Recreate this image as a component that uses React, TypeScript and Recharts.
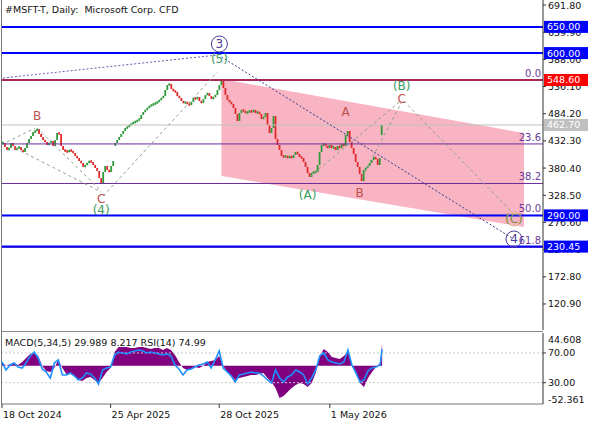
import React from "react";
import { ComposedChart, Bar, Line, Area, XAxis, YAxis, ReferenceLine, ReferenceDot } from "recharts";

const FONT = "'DejaVu Sans', Verdana, sans-serif";
const W = 596;
const SLOTS = 270;

// daily closes (one per bar slot)
const closes = [
  428.3, 420.6, 414.9, 418.7, 428.3, 422.6, 414.9, 418.7, 420.6, 414.9,
  411.1, 418.7, 428.3, 435.9, 441.6, 449.3, 451.2, 455.0, 445.5, 439.7,
  434.0, 430.2, 424.5, 428.3, 432.1, 422.6, 434.0, 447.4, 445.5, 422.6,
  414.9, 413.0, 411.1, 414.9, 413.0, 409.2, 403.5, 399.6, 393.9, 390.1,
  382.5, 386.3, 390.1, 393.9, 392.0, 386.3, 380.6, 374.8, 361.4, 350.0,
  372.9, 384.4, 376.7, 372.9, 384.4, 393.9, 428.3, 434.0, 439.7, 445.5,
  451.2, 456.9, 458.8, 462.7, 464.6, 468.4, 468.4, 472.2, 474.1, 481.8,
  487.5, 491.3, 495.1, 498.9, 500.8, 502.7, 504.6, 506.6, 510.4, 514.2,
  518.0, 529.5, 539.0, 541.0, 531.4, 527.6, 525.7, 518.0, 514.2, 508.5,
  504.6, 506.6, 502.7, 500.8, 506.6, 514.2, 512.3, 516.1, 508.5, 504.6,
  512.3, 519.9, 523.8, 518.0, 512.3, 516.1, 519.9, 529.5, 539.0, 546.7,
  533.3, 519.9, 510.4, 506.6, 502.7, 495.1, 483.7, 470.3, 485.6, 491.3,
  489.4, 485.6, 487.5, 489.4, 487.5, 491.3, 485.6, 487.5, 483.7, 474.1,
  477.9, 485.6, 462.7, 447.4, 456.9, 479.8, 435.9, 424.5, 414.9, 403.5,
  401.6, 403.5, 399.6, 403.5, 399.6, 405.4, 411.1, 407.3, 401.6, 399.6,
  392.0, 382.5, 371.0, 363.4, 371.0, 372.9, 372.9, 386.3, 411.1, 424.5,
  426.4, 422.6, 418.7, 424.5, 418.7, 420.6, 414.9, 422.6, 418.7, 426.4,
  422.6, 443.6, 451.2, 430.2, 418.7, 407.3, 392.0, 382.5, 369.1, 355.7,
  376.7, 380.6, 384.4, 390.1, 395.8, 401.6, 397.7, 386.3, 399.6, 462.7,
];
// bars that opened with a gap
const gapOpens: Record<number, number> = { 56: 422.6, 189: 443.6 };

// MACD(5,34,5) and RSI(14), every second bar (last entry = last bar)
const macd = [
  5.1, -0.4, 2.3, 3.7, 1.0, 5.1, 10.5, 16.0, 17.3, 13.2,
  -0.4, -7.2, -8.6, -3.1, 7.8, -3.1, -11.3, -11.3, -14.1, -19.5,
  -20.9, -16.8, -15.4, -19.5, -23.6, -16.8, -8.6, -3.1, 18.7, 25.5,
  25.5, 25.5, 24.2, 24.2, 25.5, 25.5, 24.2, 22.8, 24.2, 24.2,
  21.4, 24.2, 21.4, 14.6, 5.1, -3.1, -5.9, -4.5, -1.8, -3.1,
  -0.4, 5.1, 6.4, 7.8, 13.2, -0.4, -8.6, -14.1, -19.5, -16.8,
  -15.4, -14.1, -12.7, -12.7, -11.3, -10.0, -16.8, -22.3, -30.5, -44.1,
  -41.4, -35.9, -30.5, -26.4, -23.6, -25.0, -29.1, -23.6, -10.0, 13.2,
  22.8, 18.7, 11.9, 10.5, 9.2, 13.2, 18.7, -0.4, -10.0, -23.6,
  -29.1, -16.8, -8.6, -1.8, 3.7, 30.0,
];
const rsi = [
  57.9, 47.1, 53.8, 56.5, 51.1, 49.8, 56.5, 66.0, 71.3, 63.3,
  48.5, 44.4, 36.3, 56.5, 60.6, 40.4, 40.4, 43.1, 39.0, 33.6,
  36.4, 43.1, 41.8, 36.4, 28.2, 47.1, 49.8, 51.1, 67.3, 71.3,
  70.0, 68.7, 71.3, 72.7, 74.0, 72.7, 70.0, 71.3, 70.0, 68.7,
  67.3, 68.7, 66.0, 53.8, 48.5, 40.4, 47.1, 48.5, 51.1, 53.8,
  55.2, 57.9, 49.8, 60.6, 72.7, 49.8, 44.4, 39.0, 30.9, 40.4,
  41.8, 43.1, 44.4, 43.1, 43.1, 39.0, 33.6, 29.6, 47.1, 36.4,
  30.9, 37.7, 40.4, 47.1, 44.4, 40.4, 28.2, 36.4, 47.1, 66.0,
  70.0, 60.6, 57.9, 56.5, 55.2, 57.9, 74.0, 53.8, 43.1, 30.9,
  33.6, 45.8, 49.8, 51.1, 53.8, 74.99,
];

const priceTicks = [691.8, 639.9, 588.0, 536.1, 484.2, 432.3, 380.4, 328.5, 276.6, 224.7, 172.8, 120.9];
const dateTickSlots = [0, 54, 108, 163];
const dateLabels = ["18 Oct 2024", "25 Apr 2025", "28 Oct 2025", "1 May 2026"];

const blueLevels = [650, 600, 290, 230.45];
const redLevel = 548.6;
const bidLevel = 462.7;
const fibNames = ["0.0", "23.6", "38.2", "50.0", "61.8"];
const fibPrices = [548.6, 426.5, 351.0, 290.0, 229.0];

// channel corners: [slot, low, high]
const channel: [number, number, number][] = [
  [109, 365.3, 550.5],
  [260, 267.9, 447.4],
];

// wave lines: list of [slot, price]
const waveLines: [number, number][][] = [
  [[0, 552.4], [107, 596.3]],
  [[109, 592.5], [254, 246.9]],
  [[2, 430.2], [16, 456.9]],
  [[17, 456.9], [49, 336.6]],
  [[6, 418.7], [49, 334.7]],
  [[50, 327.0], [107, 563.9]],
  [[153, 363.4], [199, 510.4]],
  [[179, 361.4], [199, 506.6]],
  [[200, 508.5], [254, 296.1]],
];

const waveLabels = [
  { slot: 17, price: 479.9, text: "B", tone: "red" },
  { slot: 49, price: 321.4, text: "C", tone: "red" },
  { slot: 49, price: 300.4, text: "(4)", tone: "green" },
  { slot: 108, price: 617.3, text: "3", tone: "circle" },
  { slot: 108, price: 588.7, text: "(5)", tone: "green" },
  { slot: 171, price: 487.5, text: "A", tone: "red" },
  { slot: 152, price: 329.0, text: "(A)", tone: "green" },
  { slot: 178, price: 332.8, text: "B", tone: "red" },
  { slot: 199, price: 537.1, text: "(B)", tone: "green" },
  { slot: 199, price: 512.3, text: "C", tone: "red" },
  { slot: 255, price: 283.2, text: "(C)", tone: "olive" },
  { slot: 255, price: 245.0, text: "4", tone: "circle" },
];

const mainRows = Array.from({ length: SLOTS }, (_, i) => {
  const row: Record<string, any> = { i };
  if (i < closes.length) {
    const close = closes[i];
    const open = gapOpens[i] ?? (i > 0 ? closes[i - 1] : close);
    row.open = open;
    row.close = close;
    row.body = [Math.min(open, close), Math.max(open, close)];
  }
  channel.forEach(([s, lo, hi]) => {
    if (s === i) row.chan = [lo, hi];
  });
  waveLines.forEach((pts, n) =>
    pts.forEach(([s, p]) => {
      if (s === i) row[`w${n}`] = p;
    })
  );
  return row;
});

const indRows: Record<string, any>[] = Array.from({ length: SLOTS }, (_, i) => ({ i }));
macd.forEach((v, k) => {
  const slot = k < macd.length - 1 ? k * 2 : closes.length - 1;
  indRows[slot].hist = [0, v];
  indRows[slot].rsi = rsi[k];
});

const Candle = (props: any) => {
  const { x, y, width, height, payload } = props;
  if (!payload || payload.open == null) return null;
  const up = payload.close >= payload.open;
  const top = height < 0 ? y + height : y;
  const h = Math.max(Math.abs(height), 2.5);
  return <rect x={x + width / 2 - 0.9} y={top - (h - Math.abs(height)) / 2} width={1.8} height={h} fill={up ? "#2e9a3a" : "#e02a2a"} />;
};

const SideText = (props: any) => {
  const { viewBox, text, dy = 0 } = props;
  return (
    <text x={viewBox.x + viewBox.width + 5} y={viewBox.y + dy} dominantBaseline="central" fontSize={9.5} fontFamily={FONT} fill="#111">
      {text}
    </text>
  );
};

const PriceBox = (props: any) => {
  const { viewBox, text, bg } = props;
  const x = viewBox.x + viewBox.width + 1;
  const y = viewBox.y;
  return (
    <g>
      <rect x={x} y={y - 6} width={44} height={12} fill={bg} />
      <text x={x + 3} y={y} dominantBaseline="central" fontSize={9.5} fontFamily={FONT} fill="#fff">
        {text}
      </text>
    </g>
  );
};

const FibText = (props: any) => {
  const { viewBox, text } = props;
  return (
    <text x={viewBox.x + viewBox.width - 2} y={viewBox.y - 3} textAnchor="end" fontSize={10} fontFamily={FONT} fill="#6a3a9a">
      {text}
    </text>
  );
};

const toneColor: Record<string, string> = { red: "#c0504a", green: "#3c9a5c", olive: "#7a9050", circle: "#4a3a9a" };

const WaveText = (props: any) => {
  const { cx, cy, text, tone } = props;
  const color = toneColor[tone];
  return (
    <g>
      {tone === "circle" && <circle cx={cx} cy={cy} r={8} fill="none" stroke={color} strokeWidth={1} />}
      {tone === "olive" && <circle cx={cx} cy={cy} r={7} fill="none" stroke="#d8b080" strokeWidth={1} />}
      <text x={cx} y={cy} textAnchor="middle" dominantBaseline="central" fontSize={12} fontFamily={FONT} fill={color}>
        {text}
      </text>
    </g>
  );
};

const DateTick = (props: any) => {
  const { x, y, payload } = props;
  const idx = dateTickSlots.indexOf(payload.value);
  return (
    <text x={x + 1} y={y + 4} textAnchor="start" dominantBaseline="central" fontSize={9.5} fontFamily={FONT} fill="#111">
      {dateLabels[idx]}
    </text>
  );
};

const IndTick = (props: any) => {
  const { x, y, payload } = props;
  return (
    <text x={x} y={y} dominantBaseline="central" textAnchor="start" fontSize={9.5} fontFamily={FONT} fill="#111">
      {Number(payload.value).toFixed(2)}
    </text>
  );
};

const lineColor = (n: number) => (n === 0 ? "#6a5ab8" : n === 1 ? "#3a3a8a" : "#8ea08e");
const lineDash = (n: number) => (n <= 1 ? "2 2" : "3 3");

export default function App() {
  return (
    <div style={{ position: "absolute", left: 0, top: 0, width: W, height: 425, background: "#fff", overflow: "hidden" }}>
      <div style={{ position: "absolute", left: 1, top: 0, width: 1, height: 404, background: "#777" }} />
      <div style={{ position: "absolute", left: 1, top: 331, width: 542, height: 1, background: "#888" }} />

      <div style={{ position: "absolute", left: 0, top: 0 }}>
        <ComposedChart width={W} height={330} data={mainRows} margin={{ top: 0, right: 0, bottom: 0, left: 2 }} barCategoryGap={0}>
          <XAxis dataKey="i" hide />
          <YAxis
            orientation="right"
            width={53}
            domain={[71.2, 701.35]}
            allowDataOverflow
            ticks={priceTicks}
            interval={0}
            tickSize={3}
            tickMargin={2}
            axisLine={{ stroke: "#333" }}
            tickLine={{ stroke: "#333" }}
            tick={() => <g />}
          />
          <Area dataKey="chan" type="linear" connectNulls fill="#f8b4c2" fillOpacity={1} stroke="none" isAnimationActive={false} />
          {priceTicks.map((t) => (
            <ReferenceLine key={`t${t}`} y={t} stroke="none" label={<SideText text={t.toFixed(2)} />} />
          ))}
          {fibPrices.map((p, n) => (
            <ReferenceLine key={`f${n}`} y={p} stroke="#6a2c9a" strokeWidth={1} label={<FibText text={fibNames[n]} />} />
          ))}
          <ReferenceLine y={bidLevel} stroke="#c0c0c0" strokeWidth={1} label={<PriceBox text="462.70" bg="#c0c0c0" />} />
          <ReferenceLine y={redLevel} stroke="#a82858" strokeWidth={2} label={<PriceBox text="548.60" bg="#ff0000" />} />
          {blueLevels.map((p) => (
            <ReferenceLine key={`b${p}`} y={p} stroke="#0000ff" strokeWidth={2} label={<PriceBox text={p.toFixed(2)} bg="#0000ff" />} />
          ))}
          {waveLines.map((_, n) => (
            <Line
              key={`w${n}`}
              dataKey={`w${n}`}
              connectNulls
              dot={false}
              activeDot={false}
              stroke={lineColor(n)}
              strokeWidth={1}
              strokeDasharray={lineDash(n)}
              isAnimationActive={false}
            />
          ))}
          <Bar dataKey="body" shape={(p: any) => <Candle {...p} />} isAnimationActive={false} />
          {waveLabels.map((l, n) => (
            <ReferenceDot
              key={`l${n}`}
              x={l.slot}
              y={l.price}
              r={0}
              shape={(p: any) => <WaveText cx={p.cx} cy={p.cy} text={l.text} tone={l.tone} />}
            />
          ))}
        </ComposedChart>
      </div>

      <div style={{ position: "absolute", left: 0, top: 333 }}>
        <ComposedChart width={W} height={92} data={indRows} margin={{ top: 0, right: 0, bottom: 0, left: 2 }}>
          <XAxis
            dataKey="i"
            ticks={dateTickSlots}
            interval={0}
            height={21}
            tickSize={4}
            tickMargin={2}
            axisLine={{ stroke: "#777" }}
            tickLine={{ stroke: "#333" }}
            tick={<DateTick />}
          />
          <YAxis yAxisId="m" hide domain={[-52.361, 44.608]} allowDataOverflow />
          <YAxis
            yAxisId="r"
            orientation="right"
            width={53}
            domain={[1.3, 96.9]}
            allowDataOverflow
            ticks={[70, 30]}
            interval={0}
            tickSize={3}
            tickMargin={2}
            axisLine={{ stroke: "#333" }}
            tickLine={{ stroke: "#333" }}
            tick={<IndTick />}
          />
          <ReferenceLine yAxisId="r" y={70} stroke="#c8c8c8" strokeDasharray="2 2" />
          <ReferenceLine yAxisId="r" y={30} stroke="#c8c8c8" strokeDasharray="2 2" />
          <Area yAxisId="m" dataKey="hist" type="linear" connectNulls fill="#800080" fillOpacity={1} stroke="none" isAnimationActive={false} />
          <Line yAxisId="r" dataKey="rsi" connectNulls dot={false} activeDot={false} stroke="#1e90ff" strokeWidth={1.6} isAnimationActive={false} />
          <ReferenceLine yAxisId="m" y={44.608} stroke="none" label={<SideText text="44.608" dy={6} />} />
          <ReferenceLine yAxisId="m" y={-52.361} stroke="none" label={<SideText text="-52.361" dy={-5} />} />
        </ComposedChart>
      </div>

      <div style={{ position: "absolute", left: 5, top: 3, fontFamily: FONT, fontSize: 9.5, color: "#111", whiteSpace: "pre", lineHeight: "14px" }}>
        {"#MSFT-T, Daily:  Microsoft Corp. CFD"}
      </div>
      <div style={{ position: "absolute", left: 5, top: 336, fontFamily: FONT, fontSize: 9.5, color: "#111", whiteSpace: "pre", lineHeight: "14px" }}>
        {"MACD(5,34,5) 29.989 8.217 RSI(14) 74.99"}
      </div>
    </div>
  );
}
